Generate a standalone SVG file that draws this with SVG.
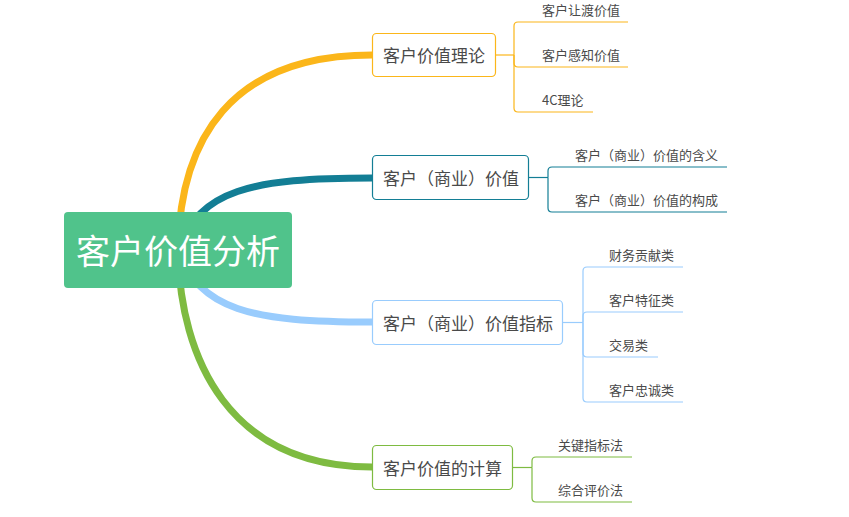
<svg xmlns="http://www.w3.org/2000/svg" width="849" height="517" viewBox="0 0 849 517">
<style>
.br{fill:none;stroke-linecap:round;stroke-width:7}
.ln{fill:none;stroke-width:1.2}
.box{fill:#fff;stroke-width:1.2}
.t1{font-family:"Noto Sans CJK SC","Microsoft YaHei",sans-serif;font-size:17px;fill:#4a4a4a}
.t2{font-family:"Noto Sans CJK SC","Microsoft YaHei",sans-serif;font-size:13px;fill:#4a4a4a}
.y{stroke:#FBB61A}.k{stroke:#137E95}.b{stroke:#99CCFD}.g{stroke:#7EBB41}
</style>
<rect width="849" height="517" fill="#fff"/>
<g id="connectors">
<path class="br y" d="M178 250 C180 140 230 55 372 55"/>
<path class="br k" d="M178 250 C200 190 250 178 372 178"/>
<path class="br b" d="M178 250 C200 310 250 322 372 322"/>
<path class="br g" d="M178 250 C180 360 230 467 372 467"/>
<g class="ln y">
<path d="M496 55 H514"/>
<path d="M514 55 V26 Q514 22 518 22 H628"/>
<path d="M514 55 V63 Q514 67 518 67 H628"/>
<path d="M514 55 V108 Q514 112 518 112 H593"/>
</g>
<g class="ln k">
<path d="M529 177.5 H548"/>
<path d="M548 177.5 V171 Q548 167 552 167 H727"/>
<path d="M548 177.5 V208 Q548 212 552 212 H727"/>
</g>
<g class="ln b">
<path d="M563 322.5 H583"/>
<path d="M583 322.5 V271 Q583 267 587 267 H683"/>
<path d="M583 322.5 V316 Q583 312 587 312 H683"/>
<path d="M583 322.5 V353 Q583 357 587 357 H658"/>
<path d="M583 322.5 V398 Q583 402 587 402 H683"/>
</g>
<g class="ln g">
<path d="M513 467.5 H532"/>
<path d="M532 467.5 V461 Q532 457 536 457 H632"/>
<path d="M532 467.5 V498 Q532 502 536 502 H632"/>
</g>
</g>
<g id="root">
<rect x="64" y="212" width="228" height="76" rx="4" fill="#50C38B"/>
<text x="178" y="264" text-anchor="middle" font-family="'Noto Sans CJK SC','Microsoft YaHei',sans-serif" font-size="34" fill="#fff">客户价值分析</text>
</g>
<g id="n1">
<rect class="box y" x="372.5" y="33.5" width="123" height="43" rx="4"/>
<text class="t1" x="383" y="62">客户价值理论</text>
</g>
<g id="n2">
<rect class="box k" x="372.5" y="155.5" width="156" height="44" rx="4"/>
<text class="t1" x="383" y="184.5">客户（商业）价值</text>
</g>
<g id="n3">
<rect class="box b" x="372.5" y="300.5" width="190" height="44" rx="4"/>
<text class="t1" x="383" y="329.5">客户（商业）价值指标</text>
</g>
<g id="n4">
<rect class="box g" x="372.5" y="445.5" width="140" height="44" rx="4"/>
<text class="t1" x="383" y="474.5">客户价值的计算</text>
</g>
<g id="leaves">
<text class="t2" x="542" y="15">客户让渡价值</text>
<text class="t2" x="542" y="60">客户感知价值</text>
<text class="t2" x="542" y="105">4C理论</text>
<text class="t2" x="575" y="160">客户（商业）价值的含义</text>
<text class="t2" x="575" y="205">客户（商业）价值的构成</text>
<text class="t2" x="609" y="260">财务贡献类</text>
<text class="t2" x="609" y="305">客户特征类</text>
<text class="t2" x="609" y="350">交易类</text>
<text class="t2" x="609" y="395">客户忠诚类</text>
<text class="t2" x="558" y="450">关键指标法</text>
<text class="t2" x="558" y="495">综合评价法</text>
</g>
</svg>
